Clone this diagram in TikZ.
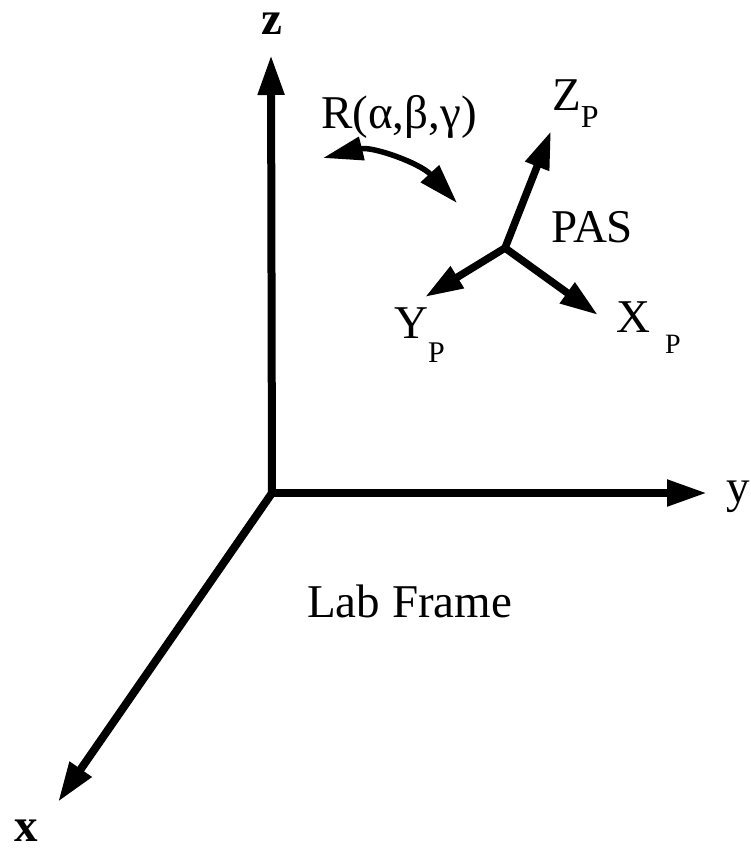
\documentclass[tikz,border=0pt]{standalone}
\usepackage{fontspec}
\setmainfont{Liberation Serif}
\usetikzlibrary{arrows.meta}
\begin{document}
\begin{tikzpicture}[x=1pt,y=-1pt,
  axis/.style={line width=8pt,-{Triangle[length=40pt,width=25pt]}},
  paxis/.style={line width=7.5pt,-{Triangle[length=38pt,width=24pt]}},
  rot/.style={line width=5.5pt,{Triangle[length=40pt,width=23pt]}-{Triangle[length=40pt,width=24pt]}},
  lbl/.style={inner sep=0pt,font=\fontsize{47}{56}\selectfont}]
\useasboundingbox (0,0) rectangle (750,849);
% lab frame axes
\coordinate (O) at (272,493);
\coordinate (ztip) at (271,55);
\coordinate (ytip) at (707,493);
\coordinate (xtip) at (58,802);
\draw[axis] (O) -- (ztip);
\draw[axis] (O) -- (ytip);
\draw[axis] (O) -- (xtip);
\node[lbl,anchor=base] (zl) at (272,34) {\textbf{z}};
\node[lbl,anchor=base west] (yl) at (726,502) {y};
\node[lbl,anchor=base] (xl) at (26,841) {\textbf{x}};
% PAS axes
\coordinate (P) at (505,248);
\coordinate (zp) at (551,131);
\coordinate (yp) at (425,297);
\coordinate (xp) at (598,315);
\draw[paxis] (P) -- (zp);
\draw[paxis] (P) -- (yp);
\draw[paxis] (P) -- (xp);
\node[lbl,anchor=base west] (zpl) at (552,110) {Z\raisebox{-17pt}{\fontsize{32}{36}\selectfont P}};
\node[lbl,anchor=base west] (ypl) at (394,338) {Y\raisebox{-24pt}{\fontsize{30}{36}\selectfont P}};
\node[lbl,anchor=base west] (xpl) at (616,332) {X\hspace{15pt}\raisebox{-21pt}{\fontsize{28}{36}\selectfont P}};
\node[lbl,anchor=base west] (pas) at (551,242) {PAS};
% rotation
\node[lbl,anchor=base west] (R) at (321,128) {R(α,β,γ)};
\coordinate (ra) at (323,158);
\coordinate (rb) at (457,203);
\draw[rot] (ra) .. controls (372,146) and (420,163) .. (rb);
\node[lbl,anchor=base west] (lab) at (307,617) {Lab Frame};
\end{tikzpicture}
\end{document}
